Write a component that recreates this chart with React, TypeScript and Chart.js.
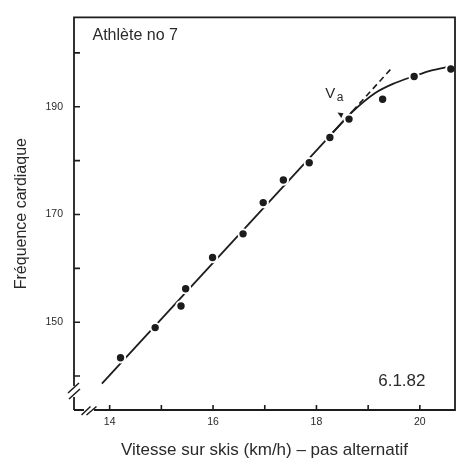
import React, { useEffect, useRef } from 'react';
import { Chart, registerables } from 'chart.js';

Chart.register(...registerables);

// ---- data ----
const speedKmh = [14.21, 14.88, 15.38, 15.47, 15.99, 16.58, 16.97, 17.36, 17.86, 18.26, 18.63, 19.28, 19.89, 20.6];
const heartRate = [143.4, 149.0, 153.0, 156.2, 162.0, 166.4, 172.2, 176.4, 179.6, 184.3, 187.7, 191.4, 195.6, 197.0];

const linearFitX = [13.85, 18.7];
const linearFitY = [138.6, 189.2];
const extensionX = [18.7, 19.43];
const extensionY = [189.2, 196.9];
const plateauX = [18.3, 18.7, 19.13, 19.52, 19.88, 20.23, 20.57];
const plateauY = [185.1, 189.1, 192.5, 194.4, 195.65, 196.75, 197.45];

const xTickValues = [14, 15, 16, 17, 18, 19, 20];
const xTickLabels = [14, 16, 18, 20];
const yTickValues = [140, 150, 160, 170, 180, 190, 200];
const yTickLabels = [150, 170, 190];

const xMin = 13.31;
const xMax = 20.68;
const yMin = 133.7;
const yMax = 206.6;

const thresholdX = 18.48;
const thresholdY = 187.9;

const athleteLabel = 'Athlète no 7';
const dateLabel = '6.1.82';
const thresholdMain = 'V';
const thresholdSub = 'a';
const xTitle = 'Vitesse sur skis (km/h) – pas alternatif';
const yTitle = 'Fréquence cardiaque';

const FONT = "'Liberation Sans', Arial, Helvetica, sans-serif";
const INK = '#1c1c1c';
const TEXT = '#2a2a2a';

const toPoints = (xs: number[], ys: number[]) => xs.map((x, i) => ({ x, y: ys[i] }));

const framePlugin = {
  id: 'frame',
  afterDraw(chart: any) {
    const { ctx, chartArea, scales } = chart;
    const { left, right, top, bottom } = chartArea;
    const xs = scales.x;
    const ys = scales.y;
    ctx.save();
    ctx.strokeStyle = INK;
    ctx.lineWidth = 1.8;
    ctx.lineCap = 'butt';
    // frame with breaks
    ctx.beginPath();
    ctx.moveTo(left, bottom);
    ctx.lineTo(left + 10, bottom);
    ctx.moveTo(left + 20, bottom);
    ctx.lineTo(right, bottom);
    ctx.lineTo(right, top);
    ctx.lineTo(left, top);
    ctx.lineTo(left, bottom - 24);
    ctx.moveTo(left, bottom - 13);
    ctx.lineTo(left, bottom);
    ctx.stroke();
    // break marks
    ctx.lineWidth = 1.5;
    ctx.beginPath();
    ctx.moveTo(left - 6, bottom - 17);
    ctx.lineTo(left + 5, bottom - 27);
    ctx.moveTo(left - 5, bottom - 11);
    ctx.lineTo(left + 6, bottom - 21);
    ctx.moveTo(left + 7.5, bottom + 5);
    ctx.lineTo(left + 16.5, bottom - 3.5);
    ctx.moveTo(left + 12.5, bottom + 5);
    ctx.lineTo(left + 22.5, bottom - 3.5);
    ctx.stroke();
    // inward ticks
    ctx.lineWidth = 1.6;
    ctx.beginPath();
    yTickValues.forEach((v) => {
      const py = ys.getPixelForValue(v);
      ctx.moveTo(left, py);
      ctx.lineTo(left + 6, py);
    });
    xTickValues.forEach((v) => {
      const px = xs.getPixelForValue(v);
      ctx.moveTo(px, bottom);
      ctx.lineTo(px, bottom - 5);
    });
    ctx.stroke();

    // texts
    ctx.fillStyle = TEXT;
    ctx.textBaseline = 'alphabetic';
    ctx.textAlign = 'left';
    ctx.font = `16px ${FONT}`;
    ctx.fillText(athleteLabel, left + 18.5, top + 22.5);
    ctx.font = `17px ${FONT}`;
    ctx.textAlign = 'right';
    ctx.fillText(dateLabel, right - 29.5, bottom - 24);

    // Va label and arrow
    const ax = xs.getPixelForValue(thresholdX);
    const ay = ys.getPixelForValue(thresholdY);
    ctx.textAlign = 'left';
    ctx.font = `15px ${FONT}`;
    ctx.fillText(thresholdMain, ax - 16, ay - 20);
    ctx.font = `12px ${FONT}`;
    ctx.fillText(thresholdSub, ax - 4.5, ay - 17);
    ctx.fillStyle = INK;
    ctx.beginPath();
    ctx.moveTo(ax, ay);
    ctx.lineTo(ax - 3.8, ay - 5.5);
    ctx.lineTo(ax + 2.2, ay - 4.8);
    ctx.closePath();
    ctx.fill();
    ctx.restore();
  },
};

export default function App() {
  const canvasRef = useRef<HTMLCanvasElement | null>(null);

  useEffect(() => {
    const canvas = canvasRef.current;
    if (!canvas) return;
    const chart = new Chart(canvas, {
      type: 'scatter',
      data: {
        datasets: [
          {
            label: 'mesures',
            data: toPoints(speedKmh, heartRate),
            pointRadius: 4.7,
            pointBorderWidth: 2,
            pointBackgroundColor: INK,
            pointBorderColor: '#ffffff',
            showLine: false,
            order: 0,
          },
          {
            label: 'droite',
            data: toPoints(linearFitX, linearFitY),
            showLine: true,
            borderColor: INK,
            borderWidth: 1.8,
            pointRadius: 0,
            order: 2,
          },
          {
            label: 'extrapolation',
            data: toPoints(extensionX, extensionY),
            showLine: true,
            borderColor: INK,
            borderWidth: 1.6,
            borderDash: [6, 4],
            pointRadius: 0,
            order: 3,
          },
          {
            label: 'courbe',
            data: toPoints(plateauX, plateauY),
            showLine: true,
            borderColor: INK,
            borderWidth: 1.8,
            pointRadius: 0,
            cubicInterpolationMode: 'monotone',
            order: 1,
          },
        ],
      },
      options: {
        animation: false,
        responsive: false,
        events: [],
        layout: { padding: { top: 12, right: 8, left: 0, bottom: 0 } },
        plugins: {
          legend: { display: false },
          tooltip: { enabled: false },
        },
        scales: {
          x: {
            type: 'linear',
            min: xMin,
            max: xMax,
            grid: { display: false, drawTicks: false },
            border: { display: false },
            afterBuildTicks: (scale: any) => {
              scale.ticks = xTickLabels.map((v) => ({ value: v }));
            },
            afterFit: (scale: any) => {
              scale.height = 51;
            },
            ticks: {
              padding: 6,
              color: TEXT,
              font: { family: FONT, size: 10.5 },
              callback: (v: any) => String(v),
            },
            title: {
              display: true,
              text: xTitle,
              color: TEXT,
              font: { family: FONT, size: 17 },
              padding: { top: 0, bottom: 0 },
            },
          },
          y: {
            type: 'linear',
            min: yMin,
            max: yMax,
            grid: { display: false, drawTicks: false },
            border: { display: false },
            afterBuildTicks: (scale: any) => {
              scale.ticks = yTickLabels.map((v) => ({ value: v }));
            },
            afterFit: (scale: any) => {
              scale.width = 74;
            },
            ticks: {
              padding: 11,
              color: TEXT,
              font: { family: FONT, size: 10.5 },
              callback: (v: any) => String(v),
            },
            title: {
              display: true,
              text: yTitle,
              color: TEXT,
              font: { family: FONT, size: 16 },
              padding: { top: 12, bottom: 0 },
            },
          },
        },
      },
      plugins: [framePlugin],
    } as any);
    return () => chart.destroy();
  }, []);

  return (
    <div style={{ position: 'fixed', left: 0, top: 0, width: 463, height: 461, background: '#fff' }}>
      <canvas ref={canvasRef} width={463} height={461} style={{ display: 'block' }} />
    </div>
  );
}
